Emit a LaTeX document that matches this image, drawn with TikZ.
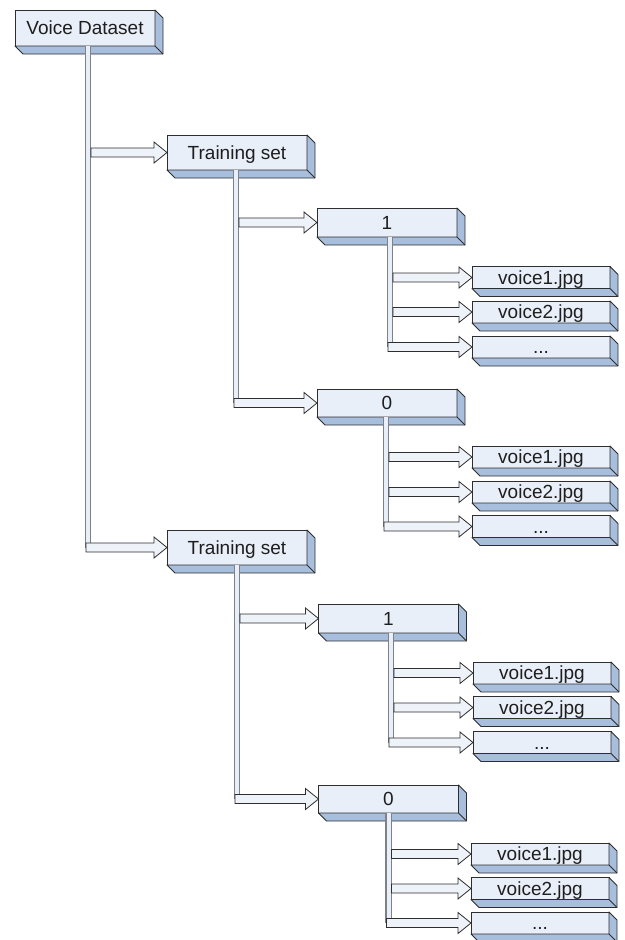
\documentclass[tikz,border=0pt]{standalone}
\usepackage{fontspec}
\setmainfont{Liberation Sans}
\usetikzlibrary{calc}
\definecolor{frontcol}{HTML}{E9EFF8}
\definecolor{sidecol}{HTML}{A7BEDD}
\definecolor{edgecol}{HTML}{2E2E2E}
\definecolor{pipegray}{HTML}{7F8188}
\definecolor{arrfill}{HTML}{EEF2F9}
\definecolor{textcol}{HTML}{1E1E1E}
\tikzset{
  box/.style={draw=edgecol, fill=frontcol, line width=0.9pt, inner sep=0pt, outer sep=0pt,
    minimum width=140pt, minimum height=35pt, text=textcol,
    font=\fontsize{19}{21}\selectfont, text height=13.5pt, text depth=0pt},
  midbox/.style={box, minimum height=29pt},
  filebox/.style={box, minimum width=138pt, minimum height=22pt},
  sideface/.style={draw=edgecol, fill=sidecol, line width=0.9pt, line join=round},
  pipe/.style={draw=pipegray, line width=1.1pt, double=frontcol, double distance=4pt},
  arr/.style={draw=edgecol, fill=arrfill, line width=0.8pt, line join=miter},
}
\newcommand\sides[1]{%
  \filldraw[sideface] (#1.south west) -- ++(8pt,-8pt) -- ($(#1.south east)+(8pt,-8pt)$)
    -- ($(#1.north east)+(8pt,-8pt)$) -- (#1.north east) -- (#1.south east) -- cycle;
  \draw[sideface] (#1.south east) -- ++(8pt,-8pt);}
\newcommand\barrow[3]{% #1 x shift from pipe, #2 pipe coordinate, #3 target node
  \draw[arr] let \p1=(#2), \p2=(#3.west) in
    (\x1+#1,\y2+4.5pt) -- (\x2-13pt,\y2+4.5pt) -- (\x2-13pt,\y2+10.5pt) -- (\x2,\y2)
    -- (\x2-13pt,\y2-10.5pt) -- (\x2-13pt,\y2-4.5pt) -- (\x1+#1,\y2-4.5pt) -- cycle;}
\begin{document}
\begin{tikzpicture}[x=1pt,y=-1pt]
\useasboundingbox (0,0) rectangle (624,940);
% boxes
\node[box, minimum height=36pt] (VD) at (85,28) {Voice Dataset};
\node[box] (TS1) at (237,152.5) {Training set};
\node[midbox] (B1a) at (387,222.5) {1};
\node[filebox] (Fa11) at (541,277.5) {voice1.jpg};
\node[filebox] (Fa12) at (541,312) {voice2.jpg};
\node[filebox] (Fa13) at (541,347) {...};
\node[midbox, minimum height=28pt] (B0a) at (387,403) {0};
\node[filebox] (Fa01) at (541,457) {voice1.jpg};
\node[filebox] (Fa02) at (541,492) {voice2.jpg};
\node[filebox] (Fa03) at (541,526.5) {...};
\node[box] (TS2) at (237,547.5) {Training set};
\node[midbox] (B1b) at (388.5,618.5) {1};
\node[filebox] (Fb11) at (542,673) {voice1.jpg};
\node[filebox] (Fb12) at (542,707.5) {voice2.jpg};
\node[filebox] (Fb13) at (542,742.5) {...};
\node[midbox, minimum height=28pt] (B0b) at (388.5,799) {0};
\node[filebox] (Fb01) at (540,854) {voice1.jpg};
\node[filebox] (Fb02) at (540,888.5) {voice2.jpg};
\node[filebox] (Fb03) at (540,923) {...};
\foreach \n in {VD,TS1,B1a,Fa11,Fa12,Fa13,B0a,Fa01,Fa02,Fa03,TS2,B1b,Fb11,Fb12,Fb13,B0b,Fb01,Fb02,Fb03}{\sides{\n}}
% pipe tops
\coordinate (pVD) at ([xshift=3pt]VD.south);
\coordinate (pTS1) at ([xshift=-1pt]TS1.south);
\coordinate (pB1a) at ([xshift=3pt]B1a.south);
\coordinate (pB0a) at ([xshift=-1pt]B0a.south);
\coordinate (pTS2) at (TS2.south);
\coordinate (pB1b) at ([xshift=2.5pt]B1b.south);
\coordinate (pB0b) at (B0b.south);
% pipes
\draw[pipe] (pVD) -- (pVD |- TS2.west);
\draw[pipe] (pTS1) -- (pTS1 |- B0a.west);
\draw[pipe] (pB1a) -- (pB1a |- Fa13.west);
\draw[pipe] (pB0a) -- (pB0a |- Fa03.west);
\draw[pipe] (pTS2) -- (pTS2 |- B0b.west);
\draw[pipe] (pB1b) -- (pB1b |- Fb13.west);
\draw[pipe] (pB0b) -- (pB0b |- Fb03.west);
% arrows
\barrow{3pt}{pVD}{TS1}
\barrow{-2pt}{pVD}{TS2}
\barrow{3pt}{pTS1}{B1a}
\barrow{-2pt}{pTS1}{B0a}
\barrow{3pt}{pB1a}{Fa11}
\barrow{3pt}{pB1a}{Fa12}
\barrow{-2pt}{pB1a}{Fa13}
\barrow{3pt}{pB0a}{Fa01}
\barrow{3pt}{pB0a}{Fa02}
\barrow{-2pt}{pB0a}{Fa03}
\barrow{3pt}{pTS2}{B1b}
\barrow{-2pt}{pTS2}{B0b}
\barrow{3pt}{pB1b}{Fb11}
\barrow{3pt}{pB1b}{Fb12}
\barrow{-2pt}{pB1b}{Fb13}
\barrow{3pt}{pB0b}{Fb01}
\barrow{3pt}{pB0b}{Fb02}
\barrow{-2pt}{pB0b}{Fb03}
\end{tikzpicture}
\end{document}
